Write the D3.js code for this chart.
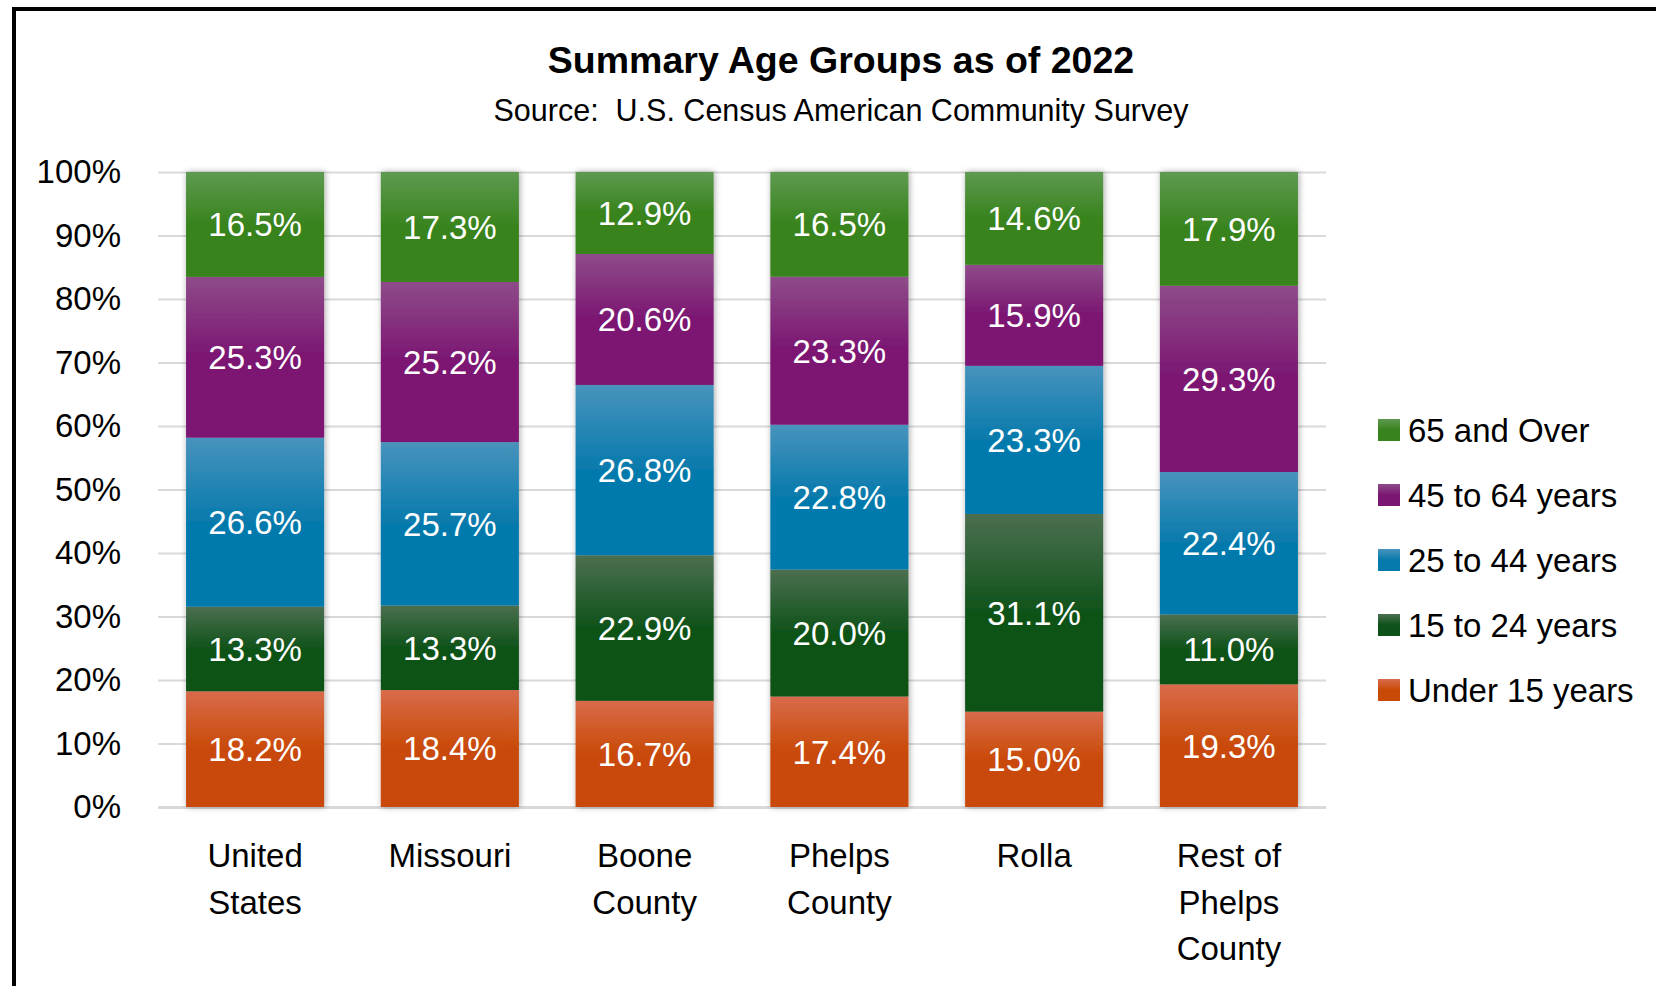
<!DOCTYPE html>
<html>
<head>
<meta charset="utf-8">
<script src="https://cdn.jsdelivr.net/npm/d3@7"></script>
<style>
  html, body { margin: 0; padding: 0; background: #fff; }
  svg { display: block; }
  text { font-family: "Liberation Sans", Arial, sans-serif; }
</style>
</head>
<body>
<svg id="chart" width="1656" height="986"></svg>
<script>
// ---- data ----
const categories = ["United States", "Missouri", "Boone County", "Phelps County", "Rolla", "Rest of Phelps County"];
const categoryLines = [["United", "States"], ["Missouri"], ["Boone", "County"], ["Phelps", "County"], ["Rolla"], ["Rest of", "Phelps", "County"]];
const seriesNames = ["Under 15 years", "15 to 24 years", "25 to 44 years", "45 to 64 years", "65 and Over"];
const under15 = [18.2, 18.4, 16.7, 17.4, 15.0, 19.3];
const age15to24 = [13.3, 13.3, 22.9, 20.0, 31.1, 11.0];
const age25to44 = [26.6, 25.7, 26.8, 22.8, 23.3, 22.4];
const age45to64 = [25.3, 25.2, 20.6, 23.3, 15.9, 29.3];
const age65plus = [16.5, 17.3, 12.9, 16.5, 14.6, 17.9];
const yTicks = [0, 0.1, 0.2, 0.3, 0.4, 0.5, 0.6, 0.7, 0.8, 0.9, 1.0];
const titleText = "Summary Age Groups as of 2022";
const subtitleText = "Source:  U.S. Census American Community Survey";

// ---- styles ----
const colorsTop = ["#d86b4b", "#4b6f50", "#4893bd", "#8e4b89", "#5e9a50"];
const colorsBase = ["#c94a07", "#0f5219", "#067aac", "#7b1672", "#38831d"];

const seriesValues = [under15, age15to24, age25to44, age45to64, age65plus];
const rows = categories.map((c, i) => {
  const r = { category: c, idx: i };
  seriesNames.forEach((s, k) => r[s] = seriesValues[k][i]);
  return r;
});

const svg = d3.select("#chart");
svg.append("rect").attr("width", 1656).attr("height", 986).attr("fill", "#fff");
// outer border (extends beyond right/bottom like the reference)
svg.append("rect").attr("x", 14).attr("y", 9).attr("width", 2000).attr("height", 2000)
  .attr("fill", "none").attr("stroke", "#000").attr("stroke-width", 4);

const defs = svg.append("defs");
seriesNames.forEach((s, k) => {
  const g = defs.append("linearGradient").attr("id", "grad" + k)
    .attr("x1", 0).attr("y1", 0).attr("x2", 0).attr("y2", 1);
  g.append("stop").attr("offset", "0%").attr("stop-color", colorsTop[k]);
  g.append("stop").attr("offset", "50%").attr("stop-color", colorsBase[k]);
  g.append("stop").attr("offset", "100%").attr("stop-color", colorsBase[k]);
});
const filt = defs.append("filter").attr("id", "shadow")
  .attr("x", "-20%").attr("y", "-5%").attr("width", "140%").attr("height", "110%");
filt.append("feDropShadow").attr("dx", 1).attr("dy", 0).attr("stdDeviation", 3)
  .attr("flood-color", "#000").attr("flood-opacity", 0.35);

const plotLeft = 158, plotRight = 1326, plotTop = 172, plotBottom = 807;
const x = d3.scaleBand().domain(categories).range([plotLeft, plotRight]).paddingInner(0.291).paddingOuter(0.144);
const y = d3.scaleLinear().domain([0, 1]).range([plotBottom, plotTop]);

// gridlines + y-axis labels
const yAxis = d3.axisLeft(y).tickValues(yTicks).tickFormat(d3.format(".0%"))
  .tickSizeInner(-(plotRight - plotLeft)).tickSizeOuter(0).tickPadding(37);
const ga = svg.append("g").attr("transform", `translate(${plotLeft},0)`).call(yAxis);
ga.select(".domain").remove();
ga.selectAll(".tick line").attr("stroke", "#d9d9d9").attr("stroke-width", d => d === 0 ? 3 : 2);
ga.selectAll(".tick text").attr("fill", "#000").style("font-size", "33px")
  .style("font-family", '"Liberation Sans", Arial, sans-serif');

// stacked bars (100% stacked)
const stack = d3.stack().keys(seriesNames).offset(d3.stackOffsetExpand);
const stacked = stack(rows);

const barsG = svg.append("g").attr("filter", "url(#shadow)");
stacked.forEach((layer, k) => {
  barsG.selectAll(null).data(layer).enter().append("rect")
    .attr("x", d => x(d.data.category))
    .attr("width", x.bandwidth())
    .attr("y", d => y(d[1]))
    .attr("height", d => y(d[0]) - y(d[1]))
    .attr("fill", `url(#grad${k})`);
});

// data labels
const labelsG = svg.append("g");
stacked.forEach((layer, k) => {
  labelsG.selectAll(null).data(layer).enter().append("text")
    .attr("x", d => x(d.data.category) + x.bandwidth() / 2)
    .attr("y", d => y((d[0] + d[1]) / 2))
    .attr("dy", "0.36em")
    .attr("text-anchor", "middle")
    .attr("fill", "#fff")
    .style("font-size", "33px")
    .text(d => d.data[seriesNames[k]].toFixed(1) + "%");
});

// category labels
const catG = svg.append("g");
categories.forEach((c, i) => {
  const t = catG.append("text")
    .attr("x", x(c) + x.bandwidth() / 2)
    .attr("y", 867)
    .attr("text-anchor", "middle")
    .attr("fill", "#000")
    .style("font-size", "33px");
  categoryLines[i].forEach((ln, j) => {
    t.append("tspan").attr("x", x(c) + x.bandwidth() / 2).attr("dy", j === 0 ? 0 : 46.5).text(ln);
  });
});

// title & subtitle
svg.append("text").attr("x", 841).attr("y", 73).attr("text-anchor", "middle")
  .style("font-size", "37.5px").style("font-weight", "bold").attr("fill", "#000").text(titleText);
svg.append("text").attr("x", 841).attr("y", 121).attr("text-anchor", "middle")
  .style("font-size", "30.5px").style("white-space", "pre").attr("xml:space", "preserve")
  .attr("fill", "#000").text(subtitleText);

// legend
const legendOrder = seriesNames.slice().reverse();
const lg = svg.append("g");
legendOrder.forEach((s, i) => {
  const k = seriesNames.indexOf(s);
  const cy = 430 + i * 65;
  lg.append("rect").attr("x", 1378).attr("y", cy - 11).attr("width", 22).attr("height", 22)
    .attr("fill", `url(#grad${k})`);
  lg.append("text").attr("x", 1408).attr("y", cy).attr("dy", "0.36em")
    .attr("fill", "#000").style("font-size", "33px").text(s);
});
</script>
</body>
</html>
